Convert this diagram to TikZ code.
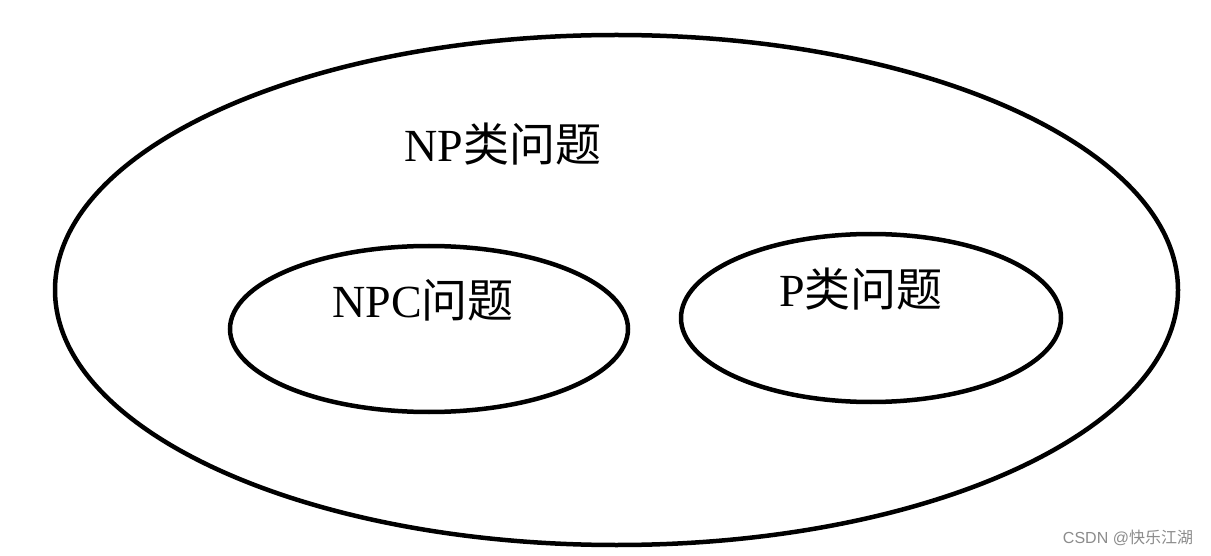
\documentclass[tikz,border=0pt]{standalone}
\usepackage{fontspec}
\setmainfont{Liberation Serif}
\newfontfamily\cjk{Noto Sans CJK SC}
\newfontfamily\wmfont{Liberation Sans}
\begin{document}
\begin{tikzpicture}[x=1pt,y=-1pt,
  setshape/.style={line width=4.5pt},
  setlabel/.style={anchor=base,inner sep=0pt,font=\fontsize{46}{50}\selectfont},
  wm/.style={anchor=base,inner sep=0pt,text=black!45,font=\fontsize{16}{18}\selectfont\wmfont}]
\useasboundingbox (0,0) rectangle (1211,556);
\fill[white] (0,0) rectangle (1211,556);
\draw[setshape] (616.5,290) ellipse [x radius=561.5, y radius=255];
\draw[setshape] (429,329) ellipse [x radius=199, y radius=83];
\draw[setshape] (871,318) ellipse [x radius=190, y radius=84];
\node[setlabel] (np) at (503,162) {NP{\cjk 类问题}};
\node[setlabel] (npc) at (423,318) {NPC{\cjk 问题}};
\node[setlabel] (p) at (861,307) {P{\cjk 类问题}};
\node[wm] (w) at (1128,543) {CSDN @{\cjk 快乐江湖}};
\end{tikzpicture}
\end{document}
